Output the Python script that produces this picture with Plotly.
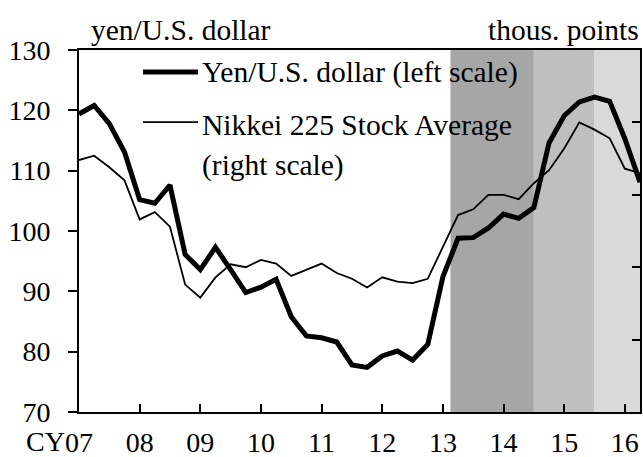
import plotly.graph_objects as go

# Quarterly data, 2007Q1 - 2016Q2
quarters = [f"{y}Q{q}" for y in range(2007, 2017) for q in range(1, 5)][:38]
yen = [119.4, 120.8, 117.8, 113.1, 105.2, 104.6, 107.6, 96.1,
       93.6, 97.3, 93.6, 89.8, 90.7, 92.0, 85.8, 82.6,
       82.3, 81.6, 77.8, 77.4, 79.3, 80.1, 78.6, 81.2,
       92.4, 98.8, 98.9, 100.5, 102.8, 102.1, 103.9, 114.6,
       119.1, 121.4, 122.2, 121.5, 115.3, 108.1]
nikkei = [17.4, 17.7, 16.9, 16.0, 13.3, 13.8, 12.8, 8.8,
          7.9, 9.3, 10.2, 10.0, 10.5, 10.25, 9.4, 9.8,
          10.25, 9.6, 9.2, 8.6, 9.3, 9.0, 8.9, 9.2,
          11.4, 13.6, 14.0, 15.0, 15.0, 14.7, 15.8, 16.7,
          18.2, 20.0, 19.5, 18.9, 16.8, 16.5]
year_ticks = [2007, 2008, 2009, 2010, 2011, 2012, 2013, 2014, 2015, 2016]
year_labels = ["07", "08", "09", "10", "11", "12", "13", "14", "15", "16"]
shade_periods = [(2013.125, 2014.5), (2014.5, 2015.5), (2015.5, 2016.25)]
shade_colors = ["#a6a6a6", "#bfbfbf", "#d9d9d9"]
series_names = ["Yen/U.S. dollar (left scale)", "Nikkei 225 Stock Average", "(right scale)"]

x = [int(q[:4]) + (int(q[-1]) - 1) / 4 for q in quarters]

FONT = "Liberation Serif"
fig = go.Figure()
fig.add_trace(go.Scatter(x=x, y=yen, mode="lines", name=series_names[0],
                         line=dict(color="black", width=5), yaxis="y", showlegend=False))
fig.add_trace(go.Scatter(x=x, y=nikkei, mode="lines", name=series_names[1],
                         line=dict(color="black", width=1.8), yaxis="y2", showlegend=False))

for (x0, x1), c in zip(shade_periods, shade_colors):
    fig.add_shape(type="rect", xref="x", yref="paper", x0=x0, x1=x1, y0=0, y1=1,
                  fillcolor=c, line=dict(width=0), layer="below")

# legend keys (paper coordinates)
fig.add_shape(type="line", xref="paper", yref="paper", x0=0.114, x1=0.212, y0=0.939, y1=0.939,
              line=dict(color="black", width=5))
fig.add_shape(type="line", xref="paper", yref="paper", x0=0.114, x1=0.212, y0=0.801, y1=0.801,
              line=dict(color="black", width=1.8))

TXT = 29.5
ann = lambda size=TXT, **k: dict(showarrow=False, font=dict(size=size), **k)

fig.update_layout(
    width=643, height=457,
    margin=dict(l=79, r=3, t=50, b=45),
    plot_bgcolor="white", paper_bgcolor="white",
    font=dict(family=FONT, size=28, color="black"),
    showlegend=False,
    xaxis=dict(range=[2007, 2016.25], tickvals=year_ticks, ticktext=year_labels,
               ticks="inside", ticklen=8, tickwidth=2, tickcolor="black",
               showline=True, linecolor="black", linewidth=2, mirror=True,
               showgrid=False, zeroline=False, ticklabelstandoff=4, automargin=False),
    yaxis=dict(range=[70, 130], dtick=10, ticks="outside", ticklen=9, tickwidth=2,
               tickcolor="black", showline=True, linecolor="black", linewidth=2,
               showgrid=False, zeroline=False, ticklabelstandoff=12, automargin=False),
    yaxis2=dict(range=[0, 25], dtick=5, overlaying="y", side="right", ticks="inside",
                ticklen=8, tickwidth=2, tickcolor="black", showticklabels=False,
                showline=True, linecolor="black", linewidth=2, showgrid=False,
                zeroline=False, automargin=False),
    annotations=[
        ann(text="yen/U.S. dollar", xref="paper", yref="paper", x=0, y=1,
            xanchor="left", yanchor="bottom", xshift=10, yshift=2),
        ann(text="thous. points", xref="paper", yref="paper", x=1, y=1,
            xanchor="right", yanchor="bottom", xshift=1, yshift=2),
        ann(size=28, text="CY", xref="x", yref="paper", x=2007, y=0,
            xanchor="right", yanchor="top", xshift=-13, yshift=-13, borderpad=0),
        ann(text=series_names[0], xref="paper", yref="paper", x=0.216, y=0.939,
            xanchor="left", yanchor="middle"),
        ann(text=series_names[1], xref="paper", yref="paper", x=0.216, y=0.793,
            xanchor="left", yanchor="middle"),
        ann(text=series_names[2], xref="paper", yref="paper", x=0.216, y=0.682,
            xanchor="left", yanchor="middle"),
    ],
)

fig.write_html("out.html", config={"displayModeBar": False},
               post_script="document.body.style.margin='0px';")
